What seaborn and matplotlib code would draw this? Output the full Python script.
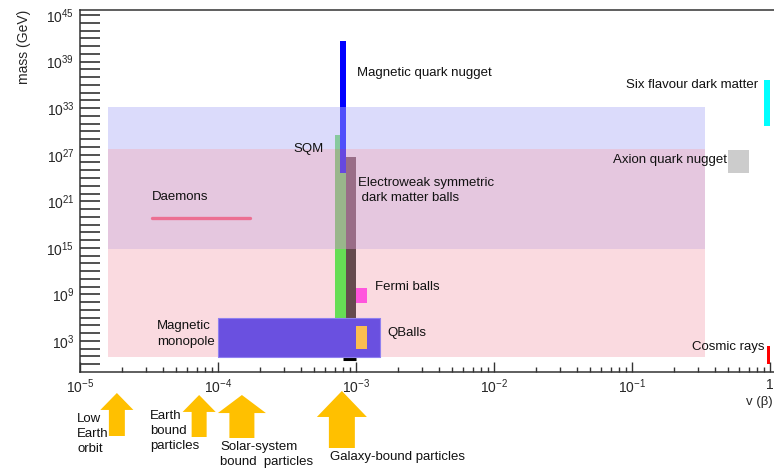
import numpy as np
import seaborn as sns
import matplotlib.pyplot as plt
from matplotlib.ticker import FixedLocator, FuncFormatter, LogLocator, NullFormatter, NullLocator

sns.set_style("ticks")
plt.rcParams['font.family'] = ['Liberation Sans', 'DejaVu Sans']
plt.rcParams['mathtext.default'] = 'regular'

# candidates: velocity range (beta) and mass range (GeV)
names = ["SQM", "Magnetic quark nugget", "Electroweak symmetric dark matter balls",
         "Magnetic monopole", "Fermi balls", "QBalls",
         "Six flavour dark matter", "Axion quark nugget", "Cosmic rays"]
v_min = [7.05e-4, 7.7e-4, 8.4e-4, 1.0e-4, 1.0e-3, 1.0e-3, 0.905, 0.497, 0.946]
v_max = [8.4e-4, 8.45e-4, 1.0e-3, 1.5e-3, 1.2e-3, 1.2e-3, 1.0, 0.705, 1.0]
m_min = [1e1, 10**24.65, 10**0.9, 10**0.9, 10**7.9, 10**2.0, 10**30.7, 10**24.6, 1e0]
m_max = [10**29.6, 10**41.6, 10**26.7, 1e6, 10**9.8, 10**4.9, 10**36.6, 10**27.6, 10**2.3]

# daemons: a line at fixed mass
daemon_v = [3.3e-5, 1.7e-4]
daemon_m = [10**18.9, 10**18.9]

# shaded mass bands
band_v = [1.6e-5, 0.34]
band_lo = [10**0.9, 10**14.9, 10**27.8]
band_hi = [10**14.9, 10**27.8, 10**33.1]

# bound-particle velocities (arrows below the axis)
regimes = ["Low\nEarth\norbit", "Earth\nbound\nparticles",
           "Solar-system\nbound  particles", "Galaxy-bound particles"]
regime_v = [1.85e-5, 7.3e-5, 1.49e-4, 7.9e-4]

# styles
colors = ["#66dd55", "#0000ff", "#654a4e", "#6a50e0", "#ff55dd", "#fbbd50",
          "#00ffff", "#cccccc", "#ff0000"]
zorders = [2, 3, 2, 4, 4, 5, 4, 4, 4]
band_styles = [("#fadae0", 1.0, 0.5), ("#cd91c1", 0.5, 3.5), ("#b1b1f8", 0.45, 3.5)]

W, H = 774, 470
fig = plt.figure(figsize=(W / 100, H / 100), dpi=100)
ax = fig.add_axes([80 / W, 98 / H, 703.8 / W, 362 / H])
ax.set_xscale('log')
ax.set_yscale('log')

for lo, hi, (c, a, z) in zip(band_lo, band_hi, band_styles):
    ax.fill_between(band_v, lo, hi, color=c, alpha=a, lw=0, zorder=z)

for i in range(len(names)):
    ec = "#8f80f0" if names[i] == "Magnetic monopole" else "none"
    ax.fill_between([v_min[i], v_max[i]], m_min[i], m_max[i], color=colors[i],
                    lw=0.8 if ec != "none" else 0, edgecolor=ec, zorder=zorders[i])

# dark base of electroweak balls bar
ax.hlines(10**0.7, 8.05e-4, v_max[2], color="black", lw=2.2, zorder=3)

sns.lineplot(x=daemon_v, y=daemon_m, ax=ax, color="#ec6f92", lw=2.4, zorder=6)

fs = 9.5
labels = [
    ("Magnetic quark nugget", 1.02e-3, 10**37.5, 'left'),
    ("Six flavour dark matter", 0.82, 10**36.0, 'right'),
    ("SQM", 5.8e-4, 10**27.8, 'right'),
    ("Axion quark nugget", 0.487, 10**26.3, 'right'),
    ("Electroweak symmetric\n dark matter balls", 1.03e-3, 10**22.4, 'left'),
    ("Daemons", 3.3e-5, 10**21.5, 'left'),
    ("Fermi balls", 1.37e-3, 10**9.9, 'left'),
    ("Magnetic\nmonopole", 3.6e-5, 10**3.9, 'left'),
    ("QBalls", 1.7e-3, 10**4.0, 'left'),
    ("Cosmic rays", 0.906, 10**2.26, 'right'),
]
for txt, x, y, ha in labels:
    ax.text(x, y, txt, ha=ha, va='center', fontsize=fs, color='#111111',
            linespacing=1.35, zorder=7)

ax.set_xlim(1e-5, 10**0.1)
ax.set_ylim(1e-1, 10**45.65)

ax.xaxis.set_major_locator(FixedLocator([10.0**k for k in range(-5, 1)]))
ax.xaxis.set_major_formatter(FuncFormatter(
    lambda v, p: "1" if abs(v - 1) < 1e-9 else "$10^{%d}$" % round(np.log10(v))))
ax.xaxis.set_minor_locator(LogLocator(base=10, subs=range(2, 10), numticks=50))
ax.xaxis.set_minor_formatter(NullFormatter())

ax.yaxis.set_major_locator(FixedLocator([10.0**k for k in range(0, 46)]))
ax.yaxis.set_major_formatter(FuncFormatter(
    lambda v, p: "$10^{%d}$" % round(np.log10(v)) if (round(np.log10(v)) - 3) % 6 == 0 else ""))
ax.yaxis.set_minor_locator(NullLocator())

ax.tick_params(axis='x', which='major', direction='in', length=7.2, width=1.0,
               color='#333333', pad=4, labelsize=10)
ax.tick_params(axis='x', which='minor', direction='in', length=3.6, width=1.0,
               color='#333333')
ax.tick_params(axis='y', which='major', direction='in', length=14.5, width=1.2,
               color='#333333', pad=4, labelsize=10)
for s in ax.spines.values():
    s.set_color('#333333')
    s.set_linewidth(1.1)
    s.set_visible(True)

ax.set_ylabel("mass (GeV)", loc='top', fontsize=10)
ax.yaxis.set_label_coords(-0.069, 1.0)
ax.set_xlabel("v (β)", fontsize=fs)
ax.xaxis.set_label_coords((746 - 80) / 703.8, -0.066)
ax.xaxis.label.set_ha('left')
ax.xaxis.label.set_va('top')

# arrows for bound-particle regimes: (top px, bottom px, tail, head width, head length)
arrow_px = [(393, 436, 1.15, 2.38, 1.22), (395, 437, 1.08, 2.38, 1.22),
            (395, 438, 1.8, 3.46, 1.3), (391, 448, 1.87, 3.6, 1.87)]
for v, (top, bot, tw, hw, hl) in zip(regime_v, arrow_px):
    ax.annotate("", xy=(v, 1 - top / H), xytext=(v, 1 - bot / H),
                xycoords=('data', 'figure fraction'),
                textcoords=('data', 'figure fraction'),
                arrowprops=dict(arrowstyle="simple,head_length=%g,head_width=%g,tail_width=%g" % (hl, hw, tw),
                                color="#ffc000", lw=0, shrinkA=0, shrinkB=0,
                                mutation_scale=10),
                annotation_clip=False)

text_px = [(77, 413), (150, 410), (220, 441), (330, 451)]
for txt, (x, y) in zip(regimes, text_px):
    fig.text(x / W, 1 - y / H, txt, ha='left', va='top', fontsize=fs,
             color='#111111', linespacing=1.35)

fig.savefig("out.png", dpi=100)
